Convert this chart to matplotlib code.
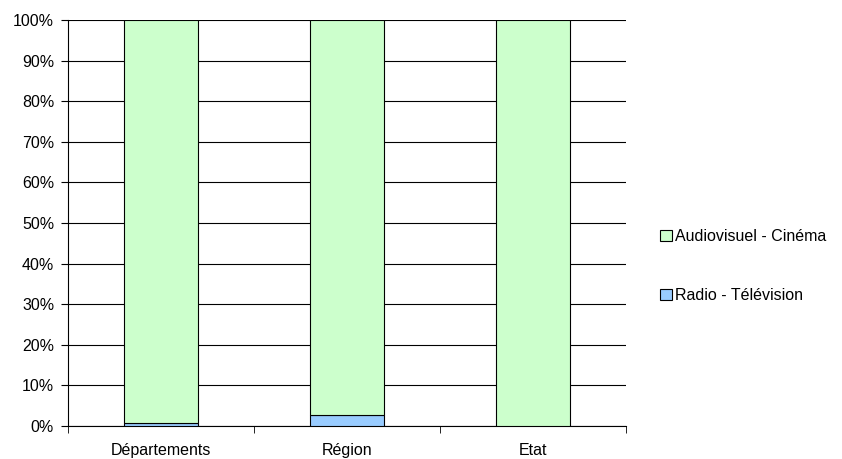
import numpy as np
from matplotlib import pyplot as plt
from matplotlib.ticker import FixedLocator, PercentFormatter

categories = ['Départements', 'Région', 'Etat']
radio_tv = [0.7, 2.7, 0.0]
audiovisuel = [99.3, 97.3, 100.0]

plt.rcParams['font.family'] = ['Liberation Sans', 'DejaVu Sans']
plt.rcParams['font.size'] = 11.5

fig = plt.figure(figsize=(8.42, 4.59), dpi=100)
ax = fig.add_axes([68 / 842, 1 - 426 / 459, (626 - 68) / 842, (426 - 20) / 459])

x = np.arange(len(categories))
b1 = ax.bar(x, radio_tv, width=0.4, color='#99CCFF', edgecolor='black', linewidth=0.8,
            label='Radio - Télévision', zorder=3)
b2 = ax.bar(x, audiovisuel, width=0.4, bottom=radio_tv, color='#CCFFCC', edgecolor='black',
            linewidth=0.8, label='Audiovisuel - Cinéma', zorder=3)

ax.set_xlim(-0.5, 2.5)
ax.set_ylim(0, 100)
ax.set_yticks(np.arange(0, 101, 10))
ax.yaxis.set_major_formatter(PercentFormatter(decimals=0))
ax.yaxis.grid(True, color='black', linewidth=0.8, zorder=0)

ax.set_xticks(x)
ax.set_xticklabels(categories)
ax.tick_params(axis='x', length=0, pad=12)
ax.xaxis.set_minor_locator(FixedLocator([-0.5, 0.5, 1.5, 2.5]))
ax.tick_params(axis='x', which='minor', length=5, direction='out', color='black')
ax.tick_params(axis='y', length=5, direction='out', color='black', pad=5)

for side in ['top', 'right']:
    ax.spines[side].set_visible(False)
ax.spines['left'].set_color('black')
ax.spines['bottom'].set_color('black')

handles = [b2, b1]
fig.legend(handles, [h.get_label() for h in handles], loc='center left',
           bbox_to_anchor=(646 / 842, 1 - 266 / 459), frameon=False,
           handlelength=0.75, handleheight=0.75, handletextpad=0.15, labelspacing=2.75)

fig.savefig('out.png', dpi=100)
